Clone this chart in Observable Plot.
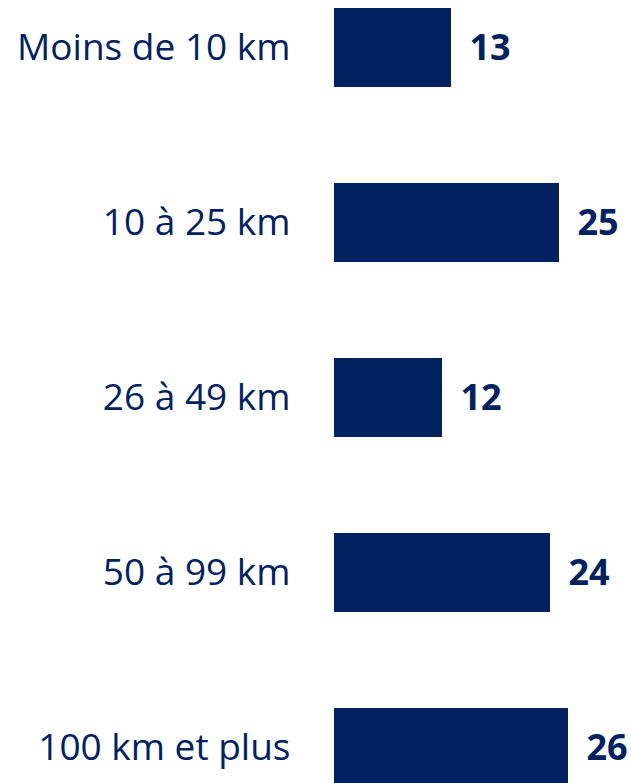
<!DOCTYPE html>
<html>
<head>
<meta charset="utf-8">
<script src="https://cdn.jsdelivr.net/npm/d3@7"></script>
<script src="https://cdn.jsdelivr.net/npm/@observablehq/plot@0.6"></script>
<style>
  html, body { margin: 0; padding: 0; background: #fff; }
</style>
</head>
<body>
<div id="chart"></div>
<script>
const categories = ["Moins de 10 km", "10 à 25 km", "26 à 49 km", "50 à 99 km", "100 km et plus"];
const values = [13, 25, 12, 24, 26];

const data = categories.map((c, i) => ({category: c, value: values[i]}));
const navy = "#02215f";

const chart = Plot.plot({
  width: 631,
  height: 783,
  marginLeft: 334,
  marginRight: 0,
  marginTop: 0,
  marginBottom: 0,
  style: {fontFamily: "Open Sans", fontSize: "37px", color: navy, background: "#fff"},
  x: {domain: [0, 33], axis: null},
  y: {domain: categories, range: [-40, 835], padding: 0, label: null},
  marks: [
    Plot.axisY({tickSize: 0, tickPadding: 44, fontSize: 37, label: null}),
    Plot.barX(data, {x: "value", y: "category", fill: navy, insetTop: 48, insetBottom: 48}),
    Plot.text(data, {x: "value", y: "category", text: d => String(d.value), textAnchor: "start", dx: 18, fontWeight: "bold", fontSize: 36, fill: navy})
  ]
});
document.getElementById("chart").appendChild(chart);
</script>
</body>
</html>
